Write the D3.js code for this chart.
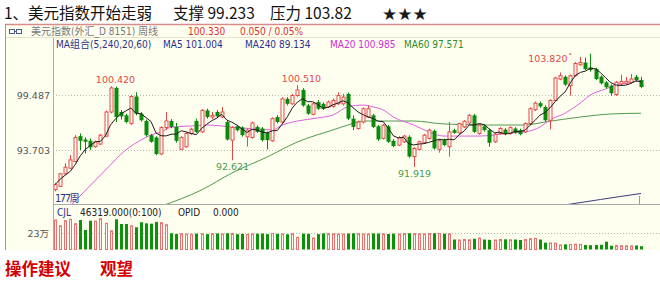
<!DOCTYPE html>
<html><head><meta charset="utf-8">
<script src="https://cdn.jsdelivr.net/npm/d3@7"></script>
<style>
body{margin:0;background:#fff;}
svg{display:block;}
text{font-family:"DejaVu Sans","Noto Sans CJK SC",sans-serif;}
.cond{font-family:"DejaVu Sans Condensed","Liberation Sans Narrow","DejaVu Sans","Noto Sans CJK SC",sans-serif;}
</style></head><body>
<svg id="c" width="660" height="281"></svg>
<script>
// ---- data ----
const candles = [ // [open, high, low, close], weekly
[89.53,90.23,89.36,90.05],[89.88,91.30,89.80,91.20],[91.20,92.31,91.10,91.89],[91.79,93.18,91.70,92.66],[92.49,95.26,92.40,95.02],
[95.16,95.44,93.70,94.67],[94.81,95.02,93.35,94.57],[94.67,94.92,93.70,93.98],[94.05,94.70,93.95,94.57],[94.33,95.40,94.25,95.26],
[95.16,97.85,95.05,97.70],[97.70,100.42,97.55,100.23],[100.23,100.37,96.65,97.17],[97.70,97.90,96.90,97.24],[97.35,97.50,96.50,96.65],
[96.48,99.50,96.35,99.33],[99.33,99.78,97.35,97.52],[97.52,97.70,96.70,96.83],[96.76,96.90,95.10,95.26],[95.26,95.40,94.47,94.57],
[95.02,95.15,93.15,93.28],[93.28,96.20,93.18,96.06],[96.06,97.70,95.79,96.76],[96.76,96.95,96.00,96.13],[96.13,96.55,94.47,94.67],
[93.77,95.15,93.70,95.02],[94.05,95.60,93.95,95.44],[95.44,96.05,95.30,95.89],[96.76,97.00,95.50,95.61],[95.61,98.00,95.50,97.87],
[97.87,98.05,97.00,97.17],[97.17,97.70,96.95,97.35],[97.70,97.90,97.10,97.24],[97.17,98.22,97.05,97.70],[96.65,96.80,94.70,94.81],
[94.74,96.20,92.621,96.06],[96.20,96.35,95.65,95.79],[96.06,96.20,95.10,95.26],[95.09,95.95,94.05,95.79],[95.02,96.70,94.90,96.55],
[96.13,96.30,95.50,95.61],[95.96,96.10,94.60,94.74],[95.51,95.65,93.77,94.74],[94.67,97.15,94.55,97.00],[97.17,97.35,96.50,96.65],
[96.65,99.25,96.50,99.08],[99.08,99.26,98.40,98.56],[98.56,99.60,98.45,99.43],[99.43,100.51,99.30,100.02],[100.02,100.20,98.25,98.39],
[98.39,98.55,97.40,97.52],[97.45,98.70,97.35,98.56],[98.74,98.95,97.90,98.04],[98.56,98.70,97.90,98.04],[98.22,98.90,98.10,98.74],
[98.29,99.10,98.15,98.91],[98.56,99.78,98.45,99.43],[98.56,99.60,98.40,99.26],[99.60,99.75,96.85,97.00],[97.00,97.35,95.79,96.13],
[95.96,96.80,95.85,96.65],[96.65,98.20,96.50,98.04],[97.17,98.39,97.05,98.04],[97.35,97.50,96.00,96.13],[96.20,96.35,94.65,94.81],
[94.92,96.45,94.80,96.31],[96.20,96.35,94.45,94.57],[94.67,94.85,94.00,94.12],[94.22,95.15,94.10,95.02],[94.57,95.30,94.45,95.16],
[95.09,95.25,92.90,93.01],[93.01,94.00,91.919,93.87],[93.77,94.70,93.65,94.57],[94.47,95.40,94.35,95.26],[94.92,95.95,94.80,95.79],
[95.72,95.85,93.75,93.87],[93.77,94.80,93.42,94.67],[94.74,94.90,94.10,94.22],[94.05,96.65,93.01,95.61],[95.79,95.95,95.40,95.51],
[95.51,96.60,95.40,96.48],[96.13,96.85,96.00,96.72],[96.55,97.50,96.45,97.35],[97.35,97.50,95.50,95.61],[95.44,96.45,95.30,96.31],
[96.20,96.35,95.65,95.79],[95.79,95.95,94.05,94.47],[94.57,95.50,94.45,95.37],[95.44,96.10,95.30,95.96],[95.85,96.00,95.25,95.37],
[95.44,96.20,95.30,96.06],[95.96,96.10,95.40,95.51],[95.79,95.95,95.25,95.37],[95.61,96.60,95.50,96.48],[96.48,98.20,96.35,98.04],
[97.94,98.80,97.80,98.63],[98.63,98.80,98.15,98.29],[98.22,98.40,96.70,96.83],[96.83,99.05,95.85,98.91],[98.91,101.40,98.80,101.27],
[101.17,101.86,101.05,101.52],[101.41,101.55,100.45,100.58],[100.47,101.65,99.43,101.52],[101.52,102.95,101.40,102.80],[102.66,103.50,102.55,102.90],
[102.90,103.43,102.10,102.21],[102.38,103.82,101.95,102.11],[102.21,102.35,101.05,101.17],[101.41,101.55,100.60,100.72],[100.82,100.95,100.15,100.30],
[100.47,100.60,99.40,99.67],[99.54,100.95,99.40,100.82],[100.65,101.62,100.50,100.92],[100.72,101.40,100.60,100.92],[100.82,101.69,100.70,101.17],
[101.41,101.60,100.95,101.06],[101.06,101.40,100.20,100.33]
];
const volumes = [
411000,330000,401000,421000,360000,411000,272000,401000,395000,430000,365000,260000,421000,355000,355000,330000,310000,380000,365000,360000,385000,375000,345000,
226000,216000,220000,216000,212000,222000,218000,214000,220000,224000,216000,226000,222000,214000,218000,210000,216000,220000,222000,214000,224000,218000,216000,212000,220000,170000,
222000,218000,160000,214000,224000,220000,218000,216000,214000,222000,226000,220000,216000,218000,224000,222000,218000,216000,220000,214000,222000,226000,220000,218000,216000,222000,226000,224000,220000,218000,
139000,132000,139000,135000,150000,160000,139000,135000,132000,139000,142000,135000,139000,132000,139000,150000,155000,139000,
95000,91000,88000,63000,72000,70000,74000,72000,63000,60000,63000,66000,109000,53000,55000,53000,52000,50000,56000,46319
];
const ma20Points = [[3,87.8],[10,91.6],[14,93.7],[17,94.75],[19,95.28],[21,95.6],[23,96.1],[27,96.23],[30,96.33],[33,96.23],[37,96.02],[40,95.91],[43,95.81],[45,96.33],[48,96.75],[52,97.07],[55,97.38],[58,98.25],[61,98.43],[63,98.23],[65,97.91],[67,97.17],[71,96.33],[74,95.6],[77,95.17],[81,95.17],[84,95.17],[87,95.28],[90,95.49],[93,95.6],[96,96.12],[98,96.86],[101,97.59],[104,98.65],[106,99.49],[109,100.12],[111,100.54],[114,100.85],[116,100.985]];
const ma60Points = [[21,87.8],[29,89.5],[35,91.28],[42,92.97],[48,94.55],[55,95.81],[58,96.33],[61,96.75],[66,96.75],[71,96.75],[77,96.44],[86,96.33],[93,96.33],[97,96.65],[104,97.17],[110,97.49],[116,97.571]];
const ma240Points = [[100,87.85],[108,88.5],[116,89.134]];
const priceTicks = [93.703, 99.487];
const volumeTicks = [230000];
const volumeTickLabels = ["23万"];
const highMarks = [11, 48];   // candle indexes with labelled highs
const lowMarks = [35, 71];    // candle indexes with labelled lows
const maxMark = 106;          // highest candle

// ---- layout ----
const svg = d3.select("#c");
const L = 53, R = 660, T = 38, B = 204, VB = 249.5;
const red = "#e34848", green = "#0b8a0b", bg = "#fffff0";

svg.append("rect").attr("x",5).attr("y",24).attr("width",655).attr("height",226).attr("fill",bg);

// title
const title = svg.append("g").attr("font-size",15.5).attr("fill","#111");
title.append("text").attr("x",4).attr("y",19).style("font-family","'Noto Sans CJK SC'").text("1、美元指数开始走弱");
title.append("text").attr("x",173).attr("y",19).style("font-family","'Noto Sans CJK SC'").text("支撑 99.233");
title.append("text").attr("x",270).attr("y",19).style("font-family","'Noto Sans CJK SC'").text("压力 103.82");
title.append("text").attr("x",382).attr("y",19.5).style("font-family","'DejaVu Sans'").attr("font-size",17).attr("fill","#1a1a1a").text("★★★");

// frame lines
svg.append("line").attr("x1",5).attr("x2",660).attr("y1",24.5).attr("y2",24.5).attr("stroke","#d98a8a").attr("stroke-width",1.5);
svg.append("line").attr("x1",5).attr("x2",660).attr("y1",37.5).attr("y2",37.5).attr("stroke","#e6e2cc");
svg.append("line").attr("x1",5.5).attr("x2",5.5).attr("y1",24).attr("y2",250).attr("stroke","#999");
svg.append("line").attr("x1",L+0.5).attr("x2",L+0.5).attr("y1",T).attr("y2",250).attr("stroke","#aaa");
svg.append("line").attr("x1",L).attr("x2",R).attr("y1",B+0.5).attr("y2",B+0.5).attr("stroke","#aaa");

// header row 1
const ic = svg.append("g").attr("stroke","#4a5a9a").attr("fill","none");
ic.append("rect").attr("x",9.5).attr("y",29.5).attr("width",5).attr("height",4);
ic.append("rect").attr("x",16.5).attr("y",29.5).attr("width",5).attr("height",4);
ic.append("line").attr("x1",14.5).attr("x2",16.5).attr("y1",31.5).attr("y2",31.5);
const h1 = svg.append("g").attr("font-size",10).attr("class","cond");
h1.append("text").attr("class","cond").attr("x",31).attr("y",34.5).attr("fill","#777").text("美元指数(外汇_D 8151) 周线");
h1.append("text").attr("class","cond").attr("x",188).attr("y",34.5).attr("fill","#d83030").text(d3.format(".3f")(candles[candles.length-1][3]));
h1.append("text").attr("class","cond").attr("x",240).attr("y",34.5).attr("fill","#d83030").text("0.050 / 0.05%");

// header row 2 (MA legend)
const closes = candles.map(d => d[3]);
const ma5 = closes.map((c,i) => d3.mean(closes.slice(Math.max(0,i-4), i+1)));
const h2 = svg.append("g").attr("font-size",10);
const legend = [
  [56, "#2b3288", "MA组合(5,240,20,60)"],
  [163, "#2b3288", "MA5 101.004"],
  [245, "#2b3288", "MA240 " + d3.format(".3f")(ma240Points[ma240Points.length-1][1])],
  [330, "#d030d0", "MA20 " + d3.format(".3f")(ma20Points[ma20Points.length-1][1])],
  [404, "#2e8b2e", "MA60 " + d3.format(".3f")(ma60Points[ma60Points.length-1][1])]
];
legend.forEach(([lx,col,t]) => h2.append("text").attr("class","cond").attr("x",lx).attr("y",48).attr("fill",col).text(t));

// scales
const x = d3.scaleLinear().domain([0, candles.length-1]).range([55, 641]);
const cx = i => Math.round(x(i)) + 0.5;
const y = d3.scaleLinear().domain([93.703, 99.487]).range([150, 95]);
const vy = d3.scaleLinear().domain([0, 230000]).range([VB, 233]);

// grid
priceTicks.forEach(t => svg.append("line").attr("x1",L).attr("x2",R).attr("y1",Math.round(y(t))+0.5).attr("y2",Math.round(y(t))+0.5)
  .attr("stroke","#b8b8b0").attr("stroke-dasharray","1,2"));
volumeTicks.forEach(t => svg.append("line").attr("x1",L).attr("x2",R).attr("y1",Math.round(vy(t))+0.5).attr("y2",Math.round(vy(t))+0.5)
  .attr("stroke","#b8b8b0").attr("stroke-dasharray","1,2"));

// axes
const ya = svg.append("g").attr("transform",`translate(${L-1},0)`)
  .call(d3.axisLeft(y).tickValues(priceTicks).tickFormat(d3.format(".3f")).tickSize(0).tickPadding(2));
const va = svg.append("g").attr("transform",`translate(${L-1},0)`)
  .call(d3.axisLeft(vy).tickValues(volumeTicks).tickFormat((d,i)=>volumeTickLabels[i]).tickSize(0).tickPadding(3));
[ya,va].forEach(g => { g.select(".domain").remove(); g.selectAll("text").attr("font-size",9.5).attr("fill","#555").attr("font-family","'DejaVu Sans','Noto Sans CJK SC'"); });

// clip for price pane
svg.append("clipPath").attr("id","pp").append("rect").attr("x",L+1).attr("y",T).attr("width",R-L).attr("height",B-T);
const pane = svg.append("g").attr("clip-path","url(#pp)");

// MA lines (behind candles)
const line = d3.line().x(d => x(d[0])).y(d => y(d[1])).curve(d3.curveMonotoneX);
pane.append("path").attr("d", line(ma60Points)).attr("fill","none").attr("stroke","#4f9a4f").attr("stroke-width",1);
pane.append("path").attr("d", line(ma240Points)).attr("fill","none").attr("stroke","#3a3a80").attr("stroke-width",1);
pane.append("path").attr("d", line(ma20Points)).attr("fill","none").attr("stroke","#dd5fdd").attr("stroke-width",1);

// candles
const cg = pane.append("g");
candles.forEach((d,i) => {
  const [o,h,l,c] = d; const up = c >= o; const X = cx(i);
  const top = y(Math.max(o,c)), bot = y(Math.min(o,c));
  const col = up ? red : green;
  if (up) {
    cg.append("line").attr("x1",X).attr("x2",X).attr("y1",y(h)).attr("y2",top).attr("stroke",col);
    cg.append("line").attr("x1",X).attr("x2",X).attr("y1",bot).attr("y2",y(l)).attr("stroke",col);
    cg.append("rect").attr("x",X-1.5).attr("y",top).attr("width",3).attr("height",Math.max(1,bot-top)).attr("fill",bg).attr("stroke",col).attr("stroke-width",1);
  } else {
    cg.append("line").attr("x1",X).attr("x2",X).attr("y1",y(h)).attr("y2",y(l)).attr("stroke",col);
    cg.append("rect").attr("x",X-2).attr("y",top).attr("width",4).attr("height",Math.max(1,bot-top)).attr("fill",col);
  }
});

// MA5 on top
const line5 = d3.line().x((d,i) => x(i)).y(d => y(d));
pane.append("path").attr("d", line5(ma5)).attr("fill","none").attr("stroke","#1a1a1a").attr("stroke-width",1);

// high / low labels
const lab = svg.append("g").attr("font-size",9.5);
highMarks.forEach(i => lab.append("text").attr("x",cx(i)+4).attr("y",y(candles[i][1])-3).attr("text-anchor","middle").attr("fill","#e04848").text(d3.format(".3f")(candles[i][1])));
lowMarks.forEach(i => lab.append("text").attr("x",cx(i)).attr("y",y(candles[i][2])+10).attr("text-anchor","middle").attr("fill","#4a9a4a").text(d3.format(".3f")(candles[i][2])));
lab.append("text").attr("x",cx(maxMark)-23).attr("y",y(candles[maxMark][1])+8).attr("text-anchor","end").attr("fill","#e04848").text(d3.format(".3f")(candles[maxMark][1]));
lab.append("text").attr("x",cx(maxMark)-22).attr("y",y(candles[maxMark][1])+4).attr("fill","#e04848").attr("font-size",7).text("°");

// period label in pane corner
svg.append("text").attr("x",55).attr("y",201.5).attr("font-size",10).attr("fill","#2b3288").attr("letter-spacing",-1.5).text("177周");

// cursor tick at last candle
svg.append("line").attr("x1",cx(candles.length-1)-2).attr("x2",cx(candles.length-1)-2).attr("y1",196).attr("y2",204).attr("stroke","#999");

// volume header
const vh = svg.append("g").attr("font-size",10);
vh.append("text").attr("class","cond").attr("x",57).attr("y",216).attr("fill","#2b3288").text("CJL");
vh.append("text").attr("class","cond").attr("x",80).attr("y",216).attr("fill","#222").text(d3.format(".3f")(volumes[volumes.length-1]).replace(/,/g,"") + "(0:100)");
vh.append("text").attr("class","cond").attr("x",178).attr("y",216).attr("fill","#222").text("OPID");
vh.append("text").attr("class","cond").attr("x",213).attr("y",216).attr("fill","#222").text("0.000");

// volume bars
const vg = svg.append("g");
volumes.forEach((v,i) => {
  const [o,,,c] = candles[i]; const up = c >= o; const X = cx(i);
  if (up) vg.append("rect").attr("x",X-1).attr("y",vy(v)).attr("width",2).attr("height",VB-vy(v)).attr("fill","#fff4f0").attr("stroke","#e87272").attr("stroke-width",1);
  else vg.append("rect").attr("x",X-1.5).attr("y",vy(v)).attr("width",3).attr("height",VB-vy(v)).attr("fill","#0b930b");
});

// bottom note
const bn = svg.append("g").attr("font-size",16.5).attr("font-weight","bold").attr("fill","#d40000");
bn.append("text").attr("x",5).attr("y",275).style("font-family","'Noto Sans CJK SC'").text("操作建议");
bn.append("text").attr("x",100).attr("y",275).style("font-family","'Noto Sans CJK SC'").text("观望");
</script>
</body></html>
